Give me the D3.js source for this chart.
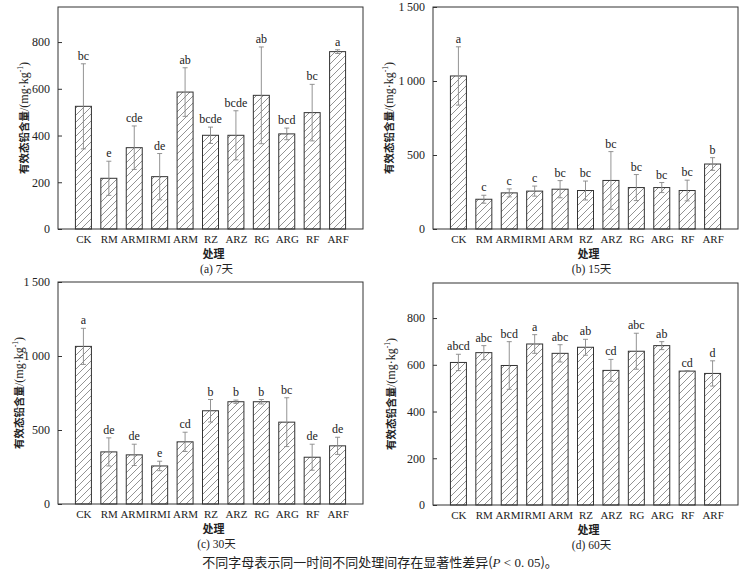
<!DOCTYPE html>
<html>
<head>
<meta charset="utf-8">
<script src="https://cdn.jsdelivr.net/npm/d3@7"></script>
<style>
body { margin: 0; background: #fff; }
text { font-family: "Liberation Serif", "Times New Roman", "DejaVu Serif", "Noto Sans CJK SC", serif; fill: #222; }
.cjk { font-family: "Noto Sans CJK SC", "Noto Sans CJK JP", sans-serif; }
</style>
</head>
<body>
<div id="canvas"></div>
<script>
var categories = ["CK", "RM", "ARMI", "RMI", "ARM", "RZ", "ARZ", "RG", "ARG", "RF", "ARF"]

// 7天
var mean7 = [525, 217, 348, 224, 586, 401, 401, 572, 407, 498, 759]
var sd7 = [182, 73, 93, 99, 104, 35, 105, 207, 25, 121, 8]
var sig7 = ["bc", "e", "cde", "de", "ab", "bcde", "bcde", "ab", "bcd", "bc", "a"]

// 15天
var mean15 = [1034, 201, 244, 256, 269, 260, 328, 280, 280, 260, 439]
var sd15 = [197, 27, 27, 34, 58, 64, 195, 88, 34, 70, 43]
var sig15 = ["a", "c", "c", "c", "bc", "bc", "bc", "bc", "bc", "bc", "b"]

// 30天
var mean30 = [1065, 352, 332, 257, 420, 630, 691, 691, 553, 316, 393]
var sd30 = [122, 95, 72, 32, 65, 76, 11, 15, 165, 88, 58]
var sig30 = ["a", "de", "de", "e", "cd", "b", "b", "b", "bc", "de", "de"]

// 60天
var mean60 = [610, 652, 597, 689, 649, 675, 576, 658, 682, 573, 563]
var sd60 = [35, 30, 102, 40, 37, 34, 47, 77, 17, 2, 54]
var sig60 = ["abcd", "abc", "bcd", "a", "abc", "ab", "cd", "abc", "ab", "cd", "d"]

var ticksSmall = [0, 200, 400, 600, 800]
var ticksLarge = [0, 500, 1000, 1500]

var width = 747
var height = 578
var plotW = 305
var plotH = 222
var serif = "'Liberation Serif', 'Times New Roman', 'DejaVu Serif', serif"

var svg = d3.select("#canvas")
    .append("svg")
    .attr("width", width)
    .attr("height", height)

// hatch fill
var pat = svg.append("defs").append("pattern")
    .attr("id", "hatch")
    .attr("patternUnits", "userSpaceOnUse")
    .attr("width", 7)
    .attr("height", 7)
pat.append("rect").attr("width", 7).attr("height", 7).attr("fill", "#fff")
pat.append("path")
    .attr("d", "M0,7 L7,0 M-2,2 L2,-2 M5,9 L9,5")
    .attr("stroke", "#777")
    .attr("stroke-width", 0.8)

var panels = [
    { left: 58, top: 7, mean: mean7, sd: sd7, sig: sig7, yMax: 950, ticks: ticksSmall, title: "(a) 7天", labelOff: 33 },
    { left: 433, top: 7, mean: mean15, sd: sd15, sig: sig15, yMax: 1500, ticks: ticksLarge, title: "(b) 15天", labelOff: 43 },
    { left: 58, top: 282, mean: mean30, sd: sd30, sig: sig30, yMax: 1500, ticks: ticksLarge, title: "(c) 30天", labelOff: 38 },
    { left: 433, top: 283, mean: mean60, sd: sd60, sig: sig60, yMax: 950, ticks: ticksSmall, title: "(d) 60天", labelOff: 41 }
]

var fmt = function (d) {
    return d >= 1000 ? Math.floor(d / 1000) + "\u2009" + d3.format("03d")(d % 1000) : String(d)
}

panels.forEach(function (p) {
    var g = svg.append("g").attr("transform", `translate(${p.left},${p.top})`)

    var xScale = d3.scalePoint().domain(categories).range([0, plotW]).padding(1)
    var yScale = d3.scaleLinear().domain([0, p.yMax]).range([plotH, 0])
    var barW = 16

    var rows = categories.map(function (c, i) {
        return { cat: c, v: p.mean[i], e: p.sd[i], s: p.sig[i] }
    })

    // bars
    g.selectAll(".bar")
        .data(rows)
        .enter()
        .append("rect")
        .attr("x", function (d) { return xScale(d.cat) - barW / 2 })
        .attr("y", function (d) { return yScale(d.v) })
        .attr("width", barW)
        .attr("height", function (d) { return plotH - yScale(d.v) })
        .attr("fill", "url(#hatch)")
        .attr("stroke", "#333")
        .attr("stroke-width", 1)

    // error bars
    var err = g.selectAll(".err")
        .data(rows)
        .enter()
        .append("g")
        .attr("stroke", "#888")
        .attr("stroke-width", 0.9)
    err.append("line")
        .attr("x1", function (d) { return xScale(d.cat) })
        .attr("x2", function (d) { return xScale(d.cat) })
        .attr("y1", function (d) { return yScale(d.v - d.e) })
        .attr("y2", function (d) { return yScale(d.v + d.e) })
    err.append("line")
        .attr("x1", function (d) { return xScale(d.cat) - 2.5 })
        .attr("x2", function (d) { return xScale(d.cat) + 2.5 })
        .attr("y1", function (d) { return yScale(d.v + d.e) })
        .attr("y2", function (d) { return yScale(d.v + d.e) })
    err.append("line")
        .attr("x1", function (d) { return xScale(d.cat) - 2.5 })
        .attr("x2", function (d) { return xScale(d.cat) + 2.5 })
        .attr("y1", function (d) { return yScale(d.v - d.e) })
        .attr("y2", function (d) { return yScale(d.v - d.e) })

    // significance letters
    g.selectAll(".sig")
        .data(rows)
        .enter()
        .append("text")
        .attr("x", function (d) { return xScale(d.cat) })
        .attr("y", function (d) { return yScale(d.v + d.e) - 4 })
        .attr("text-anchor", "middle")
        .attr("font-size", 12)
        .style("font-family", serif)
        .text(function (d) { return d.s })

    // frame
    g.append("rect")
        .attr("width", plotW)
        .attr("height", plotH)
        .attr("fill", "none")
        .attr("stroke", "#333")
        .attr("stroke-width", 1)

    // y axis, ticks inward
    var yAxis = g.append("g")
        .call(d3.axisLeft(yScale).tickValues(p.ticks).tickSize(-4).tickPadding(8).tickFormat(fmt))
    yAxis.select(".domain").remove()
    yAxis.selectAll("line").attr("stroke", "#333")
    yAxis.selectAll("text")
        .attr("font-size", 12)
        .style("font-family", serif)
        .attr("fill", "#222")

    // x axis labels
    var xAxis = g.append("g")
        .attr("transform", `translate(0,${plotH})`)
        .call(d3.axisBottom(xScale).tickSize(0).tickPadding(6))
    xAxis.select(".domain").remove()
    xAxis.selectAll("text")
        .attr("font-size", 11)
        .style("font-family", serif)
        .attr("fill", "#222")

    // axis titles
    g.append("text")
        .attr("class", "cjk")
        .attr("x", plotW / 2 + 3)
        .attr("y", plotH + 29)
        .attr("text-anchor", "middle")
        .attr("font-size", 11)
        .attr("font-weight", "bold")
        .text("处理")

    var tt = g.append("text")
        .attr("x", plotW / 2 + 6)
        .attr("y", plotH + 44)
        .attr("text-anchor", "middle")
        .attr("font-size", 11.5)
    tt.append("tspan").style("font-family", serif).text(p.title.slice(0, -1))
    tt.append("tspan").attr("class", "cjk").text(p.title.slice(-1))

    var yl = g.append("text")
        .attr("transform", `translate(${-p.labelOff},${plotH / 2}) rotate(-90)`)
        .attr("text-anchor", "middle")
        .attr("dominant-baseline", "middle")
        .attr("font-size", 12)
        .style("font-family", serif)
    yl.append("tspan")
        .attr("class", "cjk")
        .attr("font-weight", "bold")
        .attr("font-size", 10.5)
        .text("有效态铅含量")
    yl.append("tspan").text("/(mg·kg")
    yl.append("tspan").attr("font-size", 7.5).attr("dy", -4).text("-1")
    yl.append("tspan").attr("dy", 4).text(")")
})

var cap = svg.append("text")
    .attr("x", 380)
    .attr("y", 567)
    .attr("text-anchor", "middle")
    .attr("font-size", 13)
cap.append("tspan").attr("class", "cjk").text("不同字母表示同一时间不同处理间存在显著性差异(")
cap.append("tspan").style("font-family", serif).style("font-style", "italic").text("P")
cap.append("tspan").style("font-family", serif).text(" < 0. 05")
cap.append("tspan").attr("class", "cjk").text(")。")
</script>
</body>
</html>
